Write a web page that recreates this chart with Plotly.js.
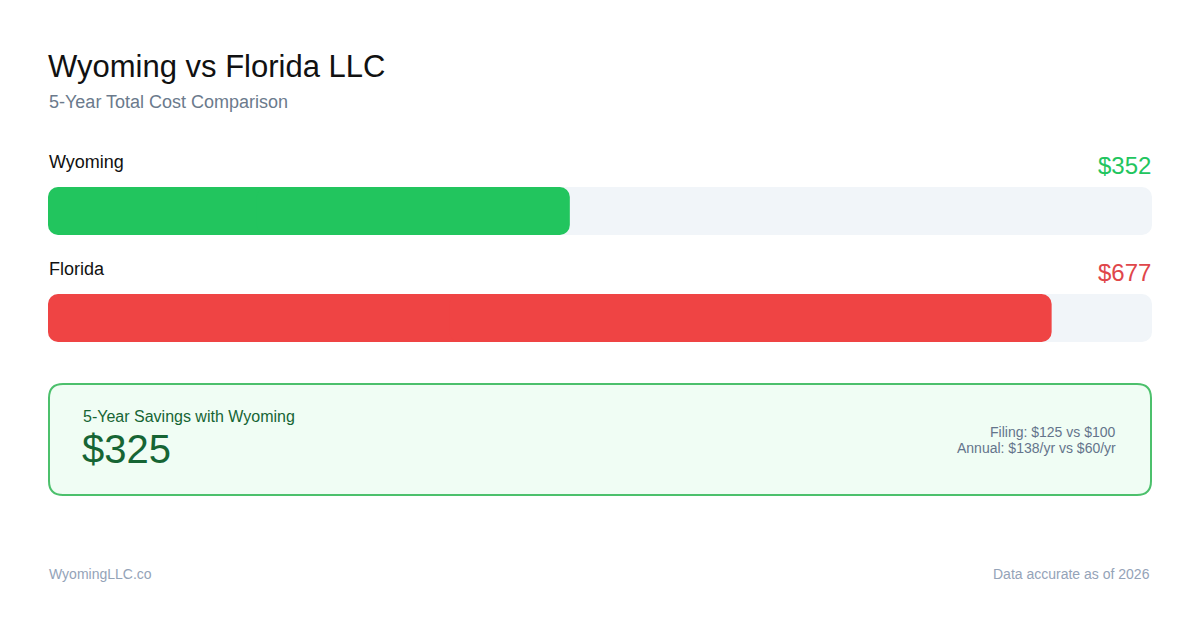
<!DOCTYPE html>
<html>
<head>
<meta charset="utf-8">
<script src="https://cdn.plot.ly/plotly-3.0.1.min.js"></script>
<style>
  html, body { margin: 0; padding: 0; background: #fff; }
  #chart { width: 1200px; height: 630px; }
</style>
</head>
<body>
<div id="chart"></div>
<script>
// data
var states = ['Wyoming', 'Florida'];
var totals = [352, 677];          // 5-year total cost
var barColors = ['#22c55e', '#ef4444'];
var labelColors = ['#22c55e', '#e0464a'];
var filingFees = [100, 125];
var annualFees = [60, 138];

var W = 1200, H = 630;
var left = 48, right = 1152;
var rowY = [211, 318];            // bar centres, in px
var scaleMax = Math.max.apply(null, totals) * 1.1;
var font = 'Liberation Sans, Arial, Helvetica, sans-serif';

function px(x) { return x / W; }

// each rounded bar is two overlapping halves, so both ends get the corner radius
function halfBars(vals, y, color) {
  var lo = vals.map(function (v) { return v * 0.6; });
  var hi = vals.map(function (v) { return v * 0.4; });
  var common = {
    type: 'bar', orientation: 'h', y: y, width: 48,
    marker: { color: color, line: { width: 0 } },
    hoverinfo: 'skip', showlegend: false
  };
  return [
    Object.assign({}, common, { base: lo, x: lo.map(function (v) { return -v; }) }),
    Object.assign({}, common, { base: hi, x: vals.map(function (v) { return v * 0.6; }) })
  ];
}

var track = states.map(function () { return scaleMax; });
var data = []
  .concat(halfBars(track, rowY, '#f1f5f9'))
  .concat(halfBars(totals, rowY, barColors));

function note(text, x, y, size, color, anchor) {
  return {
    text: text, xref: 'paper', yref: 'y', x: px(x), y: y,
    xanchor: anchor || 'left', yanchor: 'middle', showarrow: false,
    font: { family: font, size: size, color: color }
  };
}

var annotations = [
  note('Wyoming vs Florida LLC', 46, 66, 31, '#111111'),
  note('5-Year Total Cost Comparison', 47, 102, 18, '#6b7a8c')
];

states.forEach(function (s, i) {
  annotations.push(note(s, 47, rowY[i] - 49, 18, '#111111'));
  annotations.push(note('$' + totals[i], right + 1, rowY[i] - 46, 24, labelColors[i], 'right'));
});

var savings = totals[1] - totals[0];
annotations.push(note('5-Year Savings with ' + states[0], 81, 416, 16, '#166534'));
annotations.push(note('$' + savings, 80, 449, 40, '#166534'));
annotations.push(note('Filing: $' + filingFees[1] + ' vs $' + filingFees[0], 1118, 432, 14, '#64748b', 'right'));
annotations.push(note('Annual: $' + annualFees[1] + '/yr vs $' + annualFees[0] + '/yr', 1118, 448, 14, '#64748b', 'right'));
annotations.push(note('WyomingLLC.co', 47, 574, 14, '#94a3b8'));
annotations.push(note('Data accurate as of 2026', right, 574, 14, '#94a3b8', 'right'));

// savings panel: rounded rectangle in px
function roundRect(x0, y0, x1, y1, r) {
  var rx = r / W;
  var X0 = px(x0), X1 = px(x1);
  return 'M' + (X0 + rx) + ',' + y0 +
    ' L' + (X1 - rx) + ',' + y0 +
    ' Q' + X1 + ',' + y0 + ' ' + X1 + ',' + (y0 + r) +
    ' L' + X1 + ',' + (y1 - r) +
    ' Q' + X1 + ',' + y1 + ' ' + (X1 - rx) + ',' + y1 +
    ' L' + (X0 + rx) + ',' + y1 +
    ' Q' + X0 + ',' + y1 + ' ' + X0 + ',' + (y1 - r) +
    ' L' + X0 + ',' + (y0 + r) +
    ' Q' + X0 + ',' + y0 + ' ' + (X0 + rx) + ',' + y0 + ' Z';
}

var layout = {
  width: W, height: H,
  margin: { l: 0, r: 0, t: 0, b: 0 },
  paper_bgcolor: '#ffffff', plot_bgcolor: '#ffffff',
  barmode: 'overlay', barcornerradius: 10,
  xaxis: { domain: [px(left), px(right)], range: [0, scaleMax], visible: false, fixedrange: true },
  yaxis: { range: [H, 0], visible: false, fixedrange: true },
  shapes: [{
    type: 'path', xref: 'paper', yref: 'y', layer: 'below',
    path: roundRect(49, 384, 1151, 495, 14),
    fillcolor: '#f0fdf4', line: { color: '#4cc06c', width: 2 }
  }],
  annotations: annotations,
  showlegend: false,
  hovermode: false
};

Plotly.newPlot('chart', data, layout, { staticPlot: true, displayModeBar: false });
</script>
</body>
</html>
